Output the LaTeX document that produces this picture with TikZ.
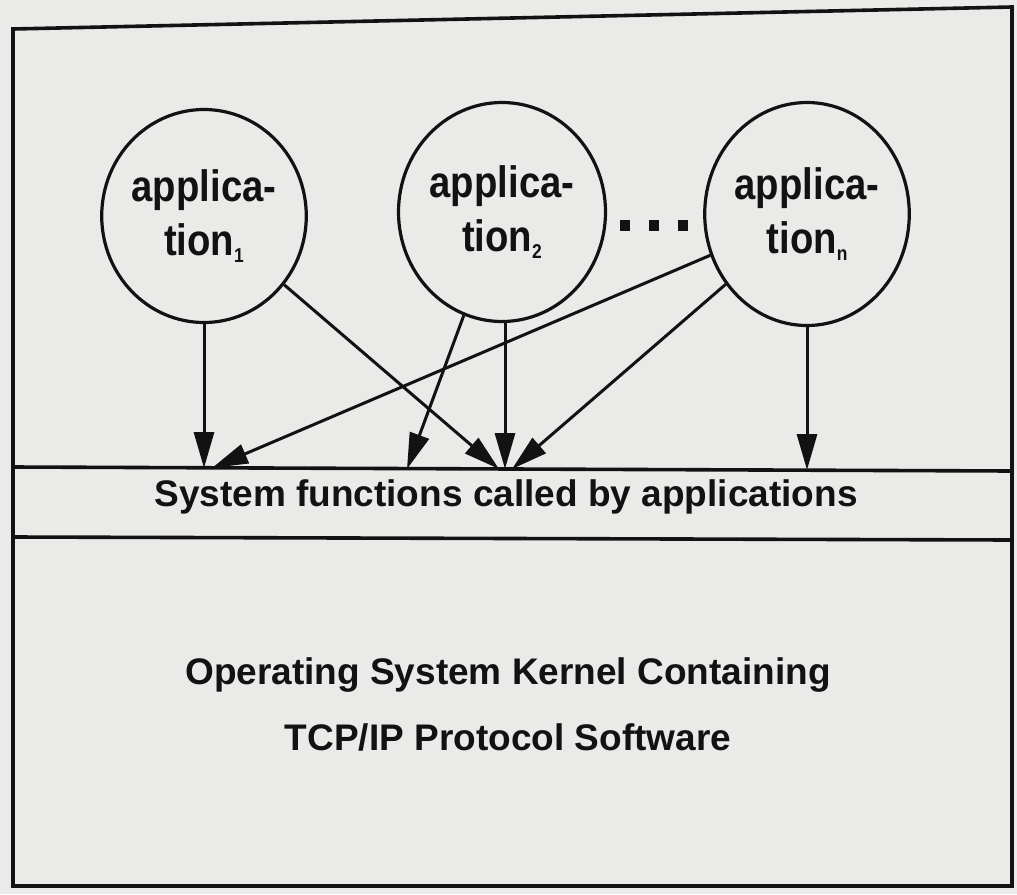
\documentclass[tikz,border=0pt]{standalone}
\usepackage{fontspec}
\setmainfont{Liberation Sans}
\newfontfamily\appfont[FakeStretch=0.87]{Liberation Sans}
\usetikzlibrary{arrows.meta,shapes.geometric}
\definecolor{paper}{HTML}{EAEAE8}
\definecolor{ink}{HTML}{121212}

\begin{document}
\begin{tikzpicture}[x=0.5pt,y=-0.5pt,
  appnode/.style={ellipse, draw=ink, line width=1.6pt, inner sep=0pt,
    align=center, text=ink,
    font=\appfont\bfseries\fontsize{22}{27}\selectfont},
  frameline/.style={draw=ink, line width=1.8pt, line join=miter},
  callarrow/.style={draw=ink, line width=1.5pt,
    -{Triangle[length=18pt,width=10pt]}},
  dotsq/.style={rectangle, fill=ink, inner sep=0pt,
    minimum width=5pt, minimum height=5.5pt},
  labeltext/.style={text=ink, inner sep=0pt, align=center}]

% page
\fill[paper] (0,0) rectangle (1017,894);
\useasboundingbox (0,0) rectangle (1017,894);

% outer frame and the band of system functions
\draw[frameline] (13,29) -- (1012,7) -- (1012,886) -- (13,886) -- cycle;
\draw[frameline] (13,467) -- (1012,471);
\draw[frameline] (13,537) -- (1012,540);

% application processes
\node[appnode, minimum width=96pt, minimum height=106.5pt] (app1) at (204,216)
  {applica-\\tion\raisebox{-3.5pt}{\fontsize{10}{10}\selectfont 1}};
\node[appnode, minimum width=103.5pt, minimum height=109.5pt] (app2) at (502,212)
  {applica-\\tion\raisebox{-3.5pt}{\fontsize{10}{10}\selectfont 2}};
\node[appnode, minimum width=101pt, minimum height=111.5pt] (appn) at (807,214)
  {applica-\\tion\raisebox{-3.5pt}{\fontsize{10}{10}\selectfont n}};

% ellipsis between the processes
\node[dotsq] (dot1) at (625,225) {};
\node[dotsq] (dot2) at (654,225) {};
\node[dotsq] (dot3) at (683,225) {};

% texts of the two layers
\node[labeltext, font=\bfseries\fontsize{18.5}{22}\selectfont] (band) at (506,497)
  {System functions called by applications};
\node[labeltext, font=\bfseries\fontsize{18.5}{33}\selectfont] (kernel) at (508,704)
  {Operating System Kernel Containing\\TCP/IP Protocol Software};

% entry points on the top of the band
\coordinate (t1)  at (204,468);
\coordinate (t1b) at (212,468);
\coordinate (t2l) at (407,469);
\coordinate (tm1) at (499,469);
\coordinate (tm2) at (505,469);
\coordinate (tm3) at (512,469);
\coordinate (tn)  at (807,470);

% calls
\draw[callarrow] (app1.south) -- (t1);
\draw[callarrow] (app1) -- (tm1);
\draw[callarrow] (app2.south -| tm2) -- (tm2);
\draw[callarrow] (app2) -- (t2l);
\draw[callarrow] (appn) -- (t1b);
\draw[callarrow] (appn) -- (tm3);
\draw[callarrow] (appn.south) -- (tn);
\end{tikzpicture}
\end{document}
